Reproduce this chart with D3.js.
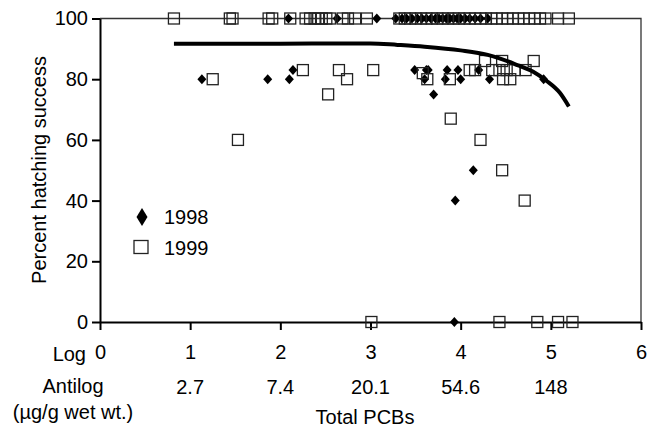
<!DOCTYPE html>
<html>
<head>
<meta charset="utf-8">
<script src="https://cdn.jsdelivr.net/npm/d3@7"></script>
<style>
  body { margin: 0; background: #fff; }
  svg text { font-family: "Liberation Sans", Arial, sans-serif; fill: #000; }
</style>
</head>
<body>
<div id="chart"></div>
<script>
// data (x = log total PCBs, y = percent hatching success)
let log1998 = [1.13, 1.86, 2.10, 2.14, 3.49, 3.62, 3.64, 3.60, 3.70, 3.85, 3.97, 3.83, 4.00, 4.20, 4.32, 4.92, 4.14, 3.94, 3.93,
  2.09, 2.63, 3.07, 3.28, 3.35, 3.40, 3.46, 3.52, 3.57, 3.62, 3.67, 3.72, 3.76, 3.80, 3.84, 3.88, 3.92, 3.96, 4.00, 4.05, 4.10, 4.16, 4.22, 4.30];
let hatch1998 = [80, 80, 80, 83, 83, 83, 83, 80, 75, 83, 83, 80, 80, 83, 80, 80, 50, 40, 0,
  100, 100, 100, 100, 100, 100, 100, 100, 100, 100, 100, 100, 100, 100, 100, 100, 100, 100, 100, 100, 100, 100, 100, 100];

let log1999 = [1.25, 1.53, 2.25, 2.53, 2.65, 2.74, 3.03, 3.63, 3.58, 3.88, 3.89, 4.22, 4.10, 4.16, 4.27, 4.35, 4.46, 4.43, 4.51, 4.60,
  4.47, 4.55, 4.72, 4.81, 4.46, 4.71, 3.01, 4.43, 4.85, 5.08, 5.24,
  0.82, 1.44, 1.47, 1.87, 1.91, 2.11, 2.28, 2.33, 2.38, 2.42, 2.46, 2.51, 2.55, 2.69, 2.75, 2.83, 2.96, 3.32, 3.38, 3.44, 3.50,
  3.56, 3.62, 3.68, 3.74, 3.80, 3.86, 3.92, 3.98, 4.04, 4.10, 4.16, 4.22, 4.28, 4.34, 4.40, 4.46, 4.52, 4.58, 4.64, 4.70, 4.76,
  4.82, 4.88, 4.94, 5.08, 5.20];
let hatch1999 = [80, 60, 83, 75, 83, 80, 83, 80, 82, 80, 67, 60, 83, 83, 86, 83, 86, 83, 83, 83,
  80, 80, 83, 86, 50, 40, 0, 0, 0, 0, 0,
  100, 100, 100, 100, 100, 100, 100, 100, 100, 100, 100, 100, 100, 100, 100, 100, 100, 100, 100, 100, 100,
  100, 100, 100, 100, 100, 100, 100, 100, 100, 100, 100, 100, 100, 100, 100, 100, 100, 100, 100, 100, 100,
  100, 100, 100, 100, 100];

// fitted curve
let curveLog = [0.82, 2.0, 2.7, 3.0, 3.3, 3.6, 4.0, 4.3, 4.6, 4.8, 4.95, 5.1, 5.2];
let curveHatch = [91.7, 91.7, 91.8, 91.8, 91.3, 90.7, 89.5, 88.0, 85.0, 82.5, 79.5, 75.5, 71.0];

let xTicks = [0, 1, 2, 3, 4, 5, 6];
let yTicks = [0, 20, 40, 60, 80, 100];
let antilogTicks = [1, 2, 3, 4, 5];
let antilogLabels = ["2.7", "7.4", "20.1", "54.6", "148"];

let svgWidth = 648;
let svgHeight = 427;
let fontSize = 20;

let margin = { top: 18.5, right: 7, bottom: 105, left: 100 };
let width = svgWidth - margin.left - margin.right;
let height = svgHeight - margin.top - margin.bottom;

let svg = d3.select("#chart")
  .append("svg")
  .attr("width", svgWidth)
  .attr("height", svgHeight);

let chartGroup = svg.append("g")
  .attr("transform", `translate(${margin.left}, ${margin.top})`);

let x = d3.scaleLinear().domain([0, 6]).range([0, width]);
let y = d3.scaleLinear().domain([0, 100]).range([height, 0]);

// top and right frame lines
chartGroup.append("path")
  .attr("d", `M${x(0)},${y(100)}H${x(6)}V${y(0)}`)
  .attr("fill", "none")
  .attr("stroke", "#333")
  .attr("stroke-width", 1.3);

// axes
let xAxis = chartGroup.append("g")
  .attr("transform", `translate(0, ${height})`)
  .call(d3.axisBottom(x).tickValues(xTicks).tickFormat(d3.format("d"))
    .tickSize(8).tickSizeOuter(0).tickPadding(15));

let yAxis = chartGroup.append("g")
  .call(d3.axisLeft(y).tickValues(yTicks).tickFormat(d3.format("d"))
    .tickSize(8).tickSizeOuter(0).tickPadding(4));

[xAxis, yAxis].forEach(function(a) {
  a.select(".domain").attr("stroke", "#000").attr("stroke-width", 2);
  a.selectAll(".tick line").attr("stroke", "#000").attr("stroke-width", 2);
  a.selectAll(".tick text").attr("font-size", fontSize).attr("font-family", "Liberation Sans, Arial, sans-serif");
});

// antilog row
chartGroup.append("g")
  .selectAll("text")
  .data(antilogTicks)
  .enter()
  .append("text")
  .attr("x", d => x(d))
  .attr("y", height + 72)
  .attr("text-anchor", "middle")
  .attr("font-size", fontSize)
  .text((d, i) => antilogLabels[i]);

// points
let diamond = "M0,-5L4.5,0L0,5L-4.5,0Z";

chartGroup.append("g")
  .selectAll("path")
  .data(log1998)
  .enter()
  .append("path")
  .attr("d", diamond)
  .attr("transform", (d, i) => `translate(${x(d)}, ${y(hatch1998[i])})`)
  .attr("fill", "#000");

chartGroup.append("g")
  .selectAll("rect")
  .data(log1999)
  .enter()
  .append("rect")
  .attr("x", d => x(d) - 5.5)
  .attr("y", (d, i) => y(hatch1999[i]) - 5.5)
  .attr("width", 11)
  .attr("height", 11)
  .attr("fill", "none")
  .attr("stroke", "#222")
  .attr("stroke-width", 1.3);

// fitted curve
let line = d3.line()
  .x(d => x(d))
  .y((d, i) => y(curveHatch[i]))
  .curve(d3.curveMonotoneX);

chartGroup.append("path")
  .datum(curveLog)
  .attr("d", line)
  .attr("fill", "none")
  .attr("stroke", "#000")
  .attr("stroke-width", 4);

// legend
svg.append("path")
  .attr("d", "M0,-9L5.5,0L0,9L-5.5,0Z")
  .attr("transform", "translate(142, 217)")
  .attr("fill", "#000");
svg.append("text").attr("x", 164).attr("y", 224).attr("font-size", fontSize).text("1998");

svg.append("rect")
  .attr("x", 134).attr("y", 240.5).attr("width", 14).attr("height", 13)
  .attr("fill", "none").attr("stroke", "#222").attr("stroke-width", 1.3);
svg.append("text").attr("x", 164).attr("y", 254.5).attr("font-size", fontSize).text("1999");

// axis titles and row labels
svg.append("text")
  .attr("transform", "rotate(-90)")
  .attr("x", -170)
  .attr("y", 46)
  .attr("text-anchor", "middle")
  .attr("font-size", fontSize)
  .text("Percent hatching success");

svg.append("text").attr("x", 86).attr("y", 361).attr("text-anchor", "end").attr("font-size", fontSize).text("Log");
svg.append("text").attr("x", 73).attr("y", 393).attr("text-anchor", "middle").attr("font-size", fontSize).text("Antilog");
svg.append("text").attr("x", 73).attr("y", 419).attr("text-anchor", "middle").attr("font-size", fontSize).text("(\u00b5g/g wet wt.)");
svg.append("text").attr("x", 365).attr("y", 424).attr("text-anchor", "middle").attr("font-size", fontSize).text("Total PCBs");
</script>
</body>
</html>
